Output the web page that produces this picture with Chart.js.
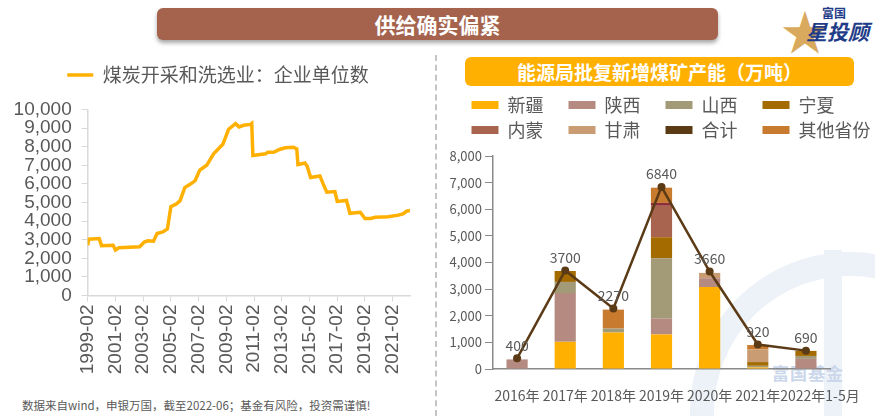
<!DOCTYPE html>
<html>
<head>
<meta charset="utf-8">
<script src="https://cdn.jsdelivr.net/npm/chart.js@4.4.1/dist/chart.umd.min.js"></script>
<style>
  body { margin: 0; width: 875px; height: 416px; overflow: hidden; background: #fff; position: relative; font-family: "Noto Sans CJK SC", sans-serif; }
  .abs { position: absolute; }
  #banner { left: 157px; top: 8px; width: 561px; height: 32px; background: #A5634D; border-radius: 6px;
            box-shadow: 0 3px 4px rgba(0,0,0,0.35); color: #fff; font-weight: bold; font-size: 21px; line-height: 32px; text-align: center; }
  #subBanner { left: 465px; top: 57px; width: 389px; height: 29px; background: #FFB000; border-radius: 6px;
               color: #fff; font-weight: bold; font-size: 19px; line-height: 29px; text-align: center; }
  #divider { left: 435px; top: 55px; height: 361px; border-left: 2px dashed #c4c4c4; }
  #note { left: 22px; top: 397px; font-size: 11.5px; color: #595959; white-space: nowrap; }
  #ring { left: 690px; top: 252px; width: 320px; height: 320px; border-radius: 50%; border: 24px solid #EDF1F8; box-sizing: border-box; }
  #ringBar { left: 824px; top: 250px; width: 18px; height: 170px; background: #EDF1F8; }
  #wmText { left: 772px; top: 360px; font-size: 17px; font-weight: bold; color: #CBD7EA; letter-spacing: 1px; }
  #star { left: 781px; top: -6px; font-size: 48px; color: #D9AA5E; }
  #logo1 { left: 822px; top: 4px; font-size: 12px; font-weight: bold; color: #1F3C88; }
  #logo2 { left: 806px; top: 16px; font-size: 21px; font-weight: bold; color: #1F3C88; font-style: italic; }
  #leftBox { left: 0px; top: 54px; width: 436px; height: 330px; }
  #rightBox { left: 440px; top: 89px; width: 462px; height: 327px; }
</style>
</head>
<body>
<div id="ring" class="abs"></div>
<div id="ringBar" class="abs"></div>
<div id="wmText" class="abs">富国基金</div>
<div id="banner" class="abs">供给确实偏紧</div>
<div id="star" class="abs">★</div>
<div id="logo1" class="abs">富国</div>
<div id="logo2" class="abs">星投顾</div>
<div id="divider" class="abs"></div>
<div id="subBanner" class="abs">能源局批复新增煤矿产能（万吨）</div>
<div id="leftBox" class="abs"><canvas id="lineChart"></canvas></div>
<div id="rightBox" class="abs"><canvas id="barChart"></canvas></div>
<div id="note" class="abs">数据来自wind，申银万国，截至2022-06；基金有风险，投资需谨慎!</div>

<script>
// 煤炭开采和洗选业：企业单位数 (month index from 1999-02)
const lineMonths = [0, 1, 10, 12, 22, 24, 27, 45, 49, 52, 57, 60, 65, 69, 72, 77, 80, 84, 89, 93, 97, 103, 109, 117, 122, 128, 131, 135, 141, 142, 143,
  154, 156, 161, 166, 171, 178, 181, 182, 188, 190, 193, 201, 204, 207, 214, 216, 224, 227, 236, 240, 245, 249, 260, 269, 273, 276, 279];
const lineValues = [2700, 3030, 3060, 2680, 2700, 2450, 2570, 2620, 2870, 2940, 2920, 3330, 3420, 3575, 4780, 4935, 5100, 5800, 5990, 6170, 6740, 7000, 7620, 8130, 8940, 9240, 9065, 9150, 9200, 9250, 7530,
  7620, 7700, 7700, 7850, 7940, 7970, 7880, 7035, 7120, 6950, 6345, 6430, 5975, 5550, 5585, 5060, 5110, 4420, 4475, 4140, 4140, 4210, 4230, 4320, 4390, 4530, 4565];

// 能源局批复新增煤矿产能（万吨）
const years = ['2016年', '2017年', '2018年', '2019年', '2020年', '2021年', '2022年1-5月'];
const xinjiang = [0, 1020, 1370, 1300, 3080, 60, 0];
const shaanxi = [360, 1830, 0, 600, 330, 0, 380];
const shanxi = [0, 420, 150, 2260, 0, 60, 110];
const ningxia = [0, 410, 0, 790, 0, 140, 190];
const neimeng = [0, 0, 0, 1180, 0, 0, 0];
const unnamed = [0, 0, 0, 110, 0, 0, 0];
const gansu = [0, 0, 0, 0, 200, 470, 0];
const others = [0, 0, 710, 570, 0, 170, 0];
const totals = [400, 3700, 2270, 6840, 3660, 920, 690];

const grey = '#595959';
const cjk = '"Noto Sans CJK SC", sans-serif';
const latin = '"Liberation Sans", Arial, sans-serif';

// empty axis used only to reserve room
const spacer = (position, size) => ({
    type: 'linear',
    position,
    ticks: { display: false },
    grid: { display: false },
    border: { display: false },
    afterFit: (s) => {
        if (position === 'top' || position === 'bottom') s.height = size; else s.width = size;
    }
});

new Chart(document.getElementById('lineChart'), {
    type: 'line',
    data: {
        datasets: [{
            label: '煤炭开采和洗选业：企业单位数',
            data: lineMonths.map((m, i) => ({ x: m, y: lineValues[i] })),
            borderColor: '#FFB000',
            backgroundColor: '#FFB000',
            borderWidth: 3.5,
            pointRadius: 0,
            tension: 0
        }]
    },
    options: {
        responsive: true,
        maintainAspectRatio: false,
        animation: false,
        plugins: {
            tooltip: { enabled: false },
            legend: {
                labels: {
                    usePointStyle: true,
                    pointStyle: 'line',
                    pointStyleWidth: 26,
                    font: { family: cjk, size: 19 },
                    color: grey,
                    padding: 11.5
                }
            }
        },
        scales: {
            x: {
                type: 'linear',
                min: 0,
                max: 279,
                ticks: {
                    stepSize: 24,
                    includeBounds: false,
                    autoSkip: false,
                    maxRotation: 90,
                    minRotation: 90,
                    padding: 3,
                    color: grey,
                    font: { family: latin, size: 19 },
                    callback: (v) => (v % 24 === 0 ? `${1999 + v / 12}-02` : null)
                },
                grid: { drawOnChartArea: false, drawTicks: true, tickLength: 6, color: '#D9D9D9' },
                border: { color: '#D9D9D9', width: 1.5 },
                afterFit: (s) => { s.height = 88.5; }
            },
            y: {
                min: 0,
                max: 10000,
                ticks: {
                    stepSize: 1000,
                    autoSkip: false,
                    padding: 10,
                    color: grey,
                    font: { family: latin, size: 19 },
                    callback: (v) => v.toLocaleString('en-US')
                },
                grid: { drawOnChartArea: false, drawTicks: true, tickLength: 6, color: '#D9D9D9' },
                border: { color: '#D9D9D9', width: 1.5 },
                afterFit: (s) => { s.width = 87.7; }
            },
            yRight: spacer('right', 26),
            xTop: spacer('top', 15)
        }
    }
});

// extra spaces keep the two legend rows in four even columns
const legendPad = { '宁夏': '\u3000\u3000', '其他省份': '' };

const valueLabels = {
    id: 'valueLabels',
    afterDatasetsDraw(chart) {
        const idx = chart.data.datasets.findIndex(d => d.type === 'line');
        const meta = chart.getDatasetMeta(idx);
        const ctx = chart.ctx;
        ctx.save();
        ctx.font = '14px ' + cjk;
        ctx.fillStyle = grey;
        ctx.textAlign = 'center';
        ctx.textBaseline = 'bottom';
        meta.data.forEach((pt, i) => {
            ctx.fillText(String(totals[i]), pt.x, pt.y - 6);
        });
        ctx.restore();
    }
};

const bar = (label, data, color) => ({ label, data, backgroundColor: color, stack: 'a', borderWidth: 0 });

new Chart(document.getElementById('barChart'), {
    type: 'bar',
    data: {
        labels: years,
        datasets: [
            bar('新疆', xinjiang, '#FFB000'),
            bar('陕西', shaanxi, '#B58A80'),
            bar('山西', shanxi, '#A39A78'),
            bar('宁夏', ningxia, '#A36B00'),
            bar('内蒙', neimeng, '#A8644E'),
            bar('', unnamed, '#8E2F38'),
            bar('甘肃', gansu, '#C99C74'),
            {
                type: 'line',
                label: '合计',
                data: totals,
                stack: 'line',
                order: -1,
                borderColor: '#5B3A16',
                backgroundColor: '#5B3A16',
                borderWidth: 2.5,
                pointRadius: 4,
                pointBackgroundColor: '#5B3A16',
                pointBorderWidth: 0,
                tension: 0
            },
            bar('其他省份', others, '#C87A2E')
        ]
    },
    options: {
        responsive: true,
        maintainAspectRatio: false,
        animation: false,
        datasets: { bar: { barPercentage: 0.44, categoryPercentage: 1 } },
        plugins: {
            tooltip: { enabled: false },
            legend: {
                align: 'center',
                labels: {
                    boxWidth: 27,
                    boxHeight: 8,
                    padding: 7,
                    color: grey,
                    font: { family: cjk, size: 18 },
                    generateLabels: (chart) => {
                        const items = Chart.defaults.plugins.legend.labels.generateLabels(chart);
                        return items
                            .filter(it => it.text !== '')
                            .sort((a, b) => a.datasetIndex - b.datasetIndex)
                            .map(it => {
                                const pad = legendPad[it.text] !== undefined ? legendPad[it.text] : '\u3000';
                                it.text = it.text + pad;
                                it.lineWidth = 0;
                                return it;
                            });
                    }
                }
            }
        },
        scales: {
            x: {
                stacked: true,
                offset: true,
                grid: { display: false },
                border: { color: '#8a8a8a', width: 1.5 },
                ticks: {
                    color: grey,
                    font: { family: cjk, size: 14 },
                    padding: 10,
                    autoSkip: false,
                    maxRotation: 0,
                    // the long last label sits a little to the right, as in the source
                    callback: (v, i) => (i === years.length - 1 ? '\u3000\u3000' + years[i] : years[i])
                },
                afterFit: (s) => { s.height = 47; }
            },
            y: {
                stacked: true,
                min: 0,
                max: 8000,
                ticks: {
                    stepSize: 1000,
                    autoSkip: false,
                    padding: 3,
                    color: grey,
                    font: { family: cjk, size: 13 },
                    callback: (v) => v.toLocaleString('en-US')
                },
                grid: { drawOnChartArea: false, drawTicks: true, tickLength: 8, color: '#8a8a8a' },
                border: { color: '#8a8a8a', width: 1.5 },
                afterFit: (s) => { s.width = 53; }
            },
            yRight: spacer('right', 72),
            xTop: spacer('top', 7)
        }
    },
    plugins: [valueLabels]
});
</script>
</body>
</html>
